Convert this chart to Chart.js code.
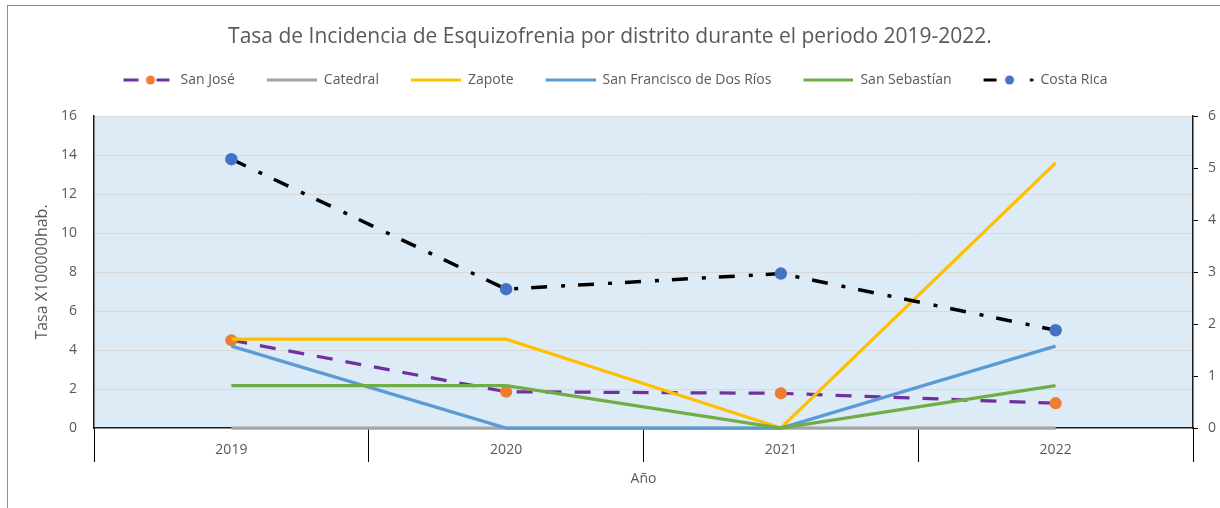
<!DOCTYPE html>
<html>
<head>
<meta charset="utf-8">
<title>Tasa de Incidencia de Esquizofrenia</title>
<script src="https://cdn.jsdelivr.net/npm/chart.js@4.4.0/dist/chart.umd.min.js"></script>
<style>
    html, body { margin: 0; padding: 0; background: #fff; }
    #wrap { position: relative; width: 1220px; height: 508px; overflow: hidden; }
    #frame { position: absolute; left: 7px; top: 5px; width: 1400px; height: 700px;
             border-left: 1px solid #5B9BD5; border-top: 1px solid #5B9BD5; pointer-events: none; }
    canvas { position: absolute; left: 0; top: 0; }
</style>
</head>
<body>
<div id="wrap">
    <div id="frame"></div>
    <canvas id="chart" width="1220" height="508"></canvas>
</div>
<script>
// values
var years = ['2019', '2020', '2021', '2022'];
var sanJose = [4.5, 1.86, 1.78, 1.27];
var catedral = [0, 0, 0, 0];
var zapote = [4.56, 4.56, 0, 13.6];
var sanFrancisco = [4.2, 0, 0, 4.2];
var sanSebastian = [2.17, 2.17, 0, 2.17];
var costaRica = [5.17, 2.67, 2.97, 1.88];   // secondary axis

var seriesNames = ['San José', 'Catedral', 'Zapote', 'San Francisco de Dos Ríos', 'San Sebastían', 'Costa Rica'];
var leftAxisMax = 16, leftAxisStep = 2;
var rightAxisMax = 6, rightAxisStep = 1;

var FONT = "'Open Sans', 'Noto Sans', sans-serif";
var GREY_TEXT = '#595959';

// little canvases used as legend samples (line + marker like Excel)
function sample(draw) {
    var c = document.createElement('canvas');
    c.width = 61;
    c.height = 12;
    var ctx = c.getContext('2d');
    draw(ctx);
    return c;
}
function seg(ctx, x1, x2, color) {
    ctx.strokeStyle = color;
    ctx.lineWidth = 3;
    ctx.beginPath();
    ctx.moveTo(x1, 6);
    ctx.lineTo(x2, 6);
    ctx.stroke();
}
function dot(ctx, x, r, color) {
    ctx.fillStyle = color;
    ctx.beginPath();
    ctx.arc(x, 6, r, 0, Math.PI * 2);
    ctx.fill();
}

var legendSamples = [
    sample(function (ctx) { seg(ctx, 11, 26, '#7030A0'); seg(ctx, 44, 57, '#7030A0'); dot(ctx, 38, 4.5, '#ED7D31'); }),
    sample(function (ctx) { seg(ctx, 11, 61, '#A5A5A5'); }),
    sample(function (ctx) { seg(ctx, 11, 61, '#FFC000'); }),
    sample(function (ctx) { seg(ctx, 11, 61, '#5B9BD5'); }),
    sample(function (ctx) { seg(ctx, 11, 61, '#70AD47'); }),
    sample(function (ctx) { seg(ctx, 11, 24, '#000000'); dot(ctx, 37, 4.5, '#4472C4'); dot(ctx, 59, 1.8, '#000000'); })
];

var plotBackground = {
    id: 'plotBackground',
    beforeDraw: function (chart) {
        var a = chart.chartArea;
        var ctx = chart.ctx;
        ctx.save();
        ctx.fillStyle = '#DDEBF7';
        ctx.fillRect(a.left, a.top, a.right - a.left, a.bottom - a.top);
        ctx.restore();
    }
};

// extra room below the legend row (Excel leaves a wide gap before the plot)
var legendGap = {
    id: 'legendGap',
    afterInit: function (chart) {
        var lg = chart.legend;
        if (!lg) return;
        var fit = lg.fit;
        lg.fit = function () {
            fit.call(this);
            this.height += 19;
        };
    }
};

document.addEventListener("DOMContentLoaded", function () {
    Chart.defaults.font.family = FONT;
    Chart.defaults.color = GREY_TEXT;

    var ctx = document.getElementById('chart').getContext('2d');
    new Chart(ctx, {
        type: 'line',
        data: {
            labels: years,
            datasets: [{
                label: seriesNames[0],
                data: sanJose,
                borderColor: '#7030A0',
                borderWidth: 3.25,
                borderDash: [16, 13],
                pointRadius: 4.5,
                pointBackgroundColor: '#ED7D31',
                pointBorderColor: '#ED7D31',
                yAxisID: 'y',
                order: 6
            }, {
                label: seriesNames[1],
                data: catedral,
                borderColor: '#A5A5A5',
                borderWidth: 3.25,
                pointRadius: 0,
                yAxisID: 'y',
                order: 5
            }, {
                label: seriesNames[2],
                data: zapote,
                borderColor: '#FFC000',
                borderWidth: 3.25,
                pointRadius: 0,
                yAxisID: 'y',
                order: 4
            }, {
                label: seriesNames[3],
                data: sanFrancisco,
                borderColor: '#5B9BD5',
                borderWidth: 3.25,
                pointRadius: 0,
                yAxisID: 'y',
                order: 3
            }, {
                label: seriesNames[4],
                data: sanSebastian,
                borderColor: '#70AD47',
                borderWidth: 3.25,
                pointRadius: 0,
                yAxisID: 'y',
                order: 2
            }, {
                label: seriesNames[5],
                data: costaRica,
                borderColor: '#000000',
                borderWidth: 3.5,
                borderDash: [16, 14, 4, 13],
                pointRadius: 4.5,
                pointBackgroundColor: '#4472C4',
                pointBorderColor: '#4472C4',
                yAxisID: 'y1',
                order: 1
            }]
        },
        options: {
            responsive: false,
            animation: false,
            devicePixelRatio: 1,
            events: [],
            clip: 8,
            elements: { line: { tension: 0, fill: false } },
            layout: { padding: { top: 1, left: 0, right: 0, bottom: 0 } },
            plugins: {
                tooltip: { enabled: false },
                title: {
                    display: true,
                    text: 'Tasa de Incidencia de Esquizofrenia por distrito durante el periodo 2019-2022.',
                    color: GREY_TEXT,
                    font: { family: FONT, size: 21, weight: 'normal' },
                    padding: { top: 23, bottom: 2.8 }
                },
                legend: {
                    display: true,
                    position: 'top',
                    labels: {
                        usePointStyle: true,
                        pointStyleWidth: 61,
                        padding: 21,
                        color: GREY_TEXT,
                        font: { family: FONT, size: 14 },
                        generateLabels: function (chart) {
                            return seriesNames.map(function (name, i) {
                                return {
                                    text: name,
                                    pointStyle: legendSamples[i],
                                    fillStyle: 'rgba(0,0,0,0)',
                                    strokeStyle: 'rgba(0,0,0,0)',
                                    lineWidth: 0,
                                    fontColor: GREY_TEXT,
                                    hidden: false,
                                    datasetIndex: i
                                };
                            });
                        }
                    }
                }
            },
            scales: {
                x: {
                    type: 'category',
                    offset: true,
                    grid: {
                        offset: true,
                        drawOnChartArea: false,
                        drawTicks: true,
                        tickLength: 34,
                        color: '#000000',
                        lineWidth: 1
                    },
                    border: { display: true, color: '#1a1a1a', width: 1.5 },
                    ticks: { color: GREY_TEXT, font: { size: 14 }, padding: -20, maxRotation: 0 },
                    title: {
                        display: true,
                        text: 'Año',
                        color: GREY_TEXT,
                        font: { size: 14 },
                        padding: { top: 0, bottom: 21 }
                    },
                    afterFit: function (scale) { scale.height = 80; }
                },
                y: {
                    position: 'left',
                    min: 0,
                    max: leftAxisMax,
                    ticks: { stepSize: leftAxisStep, color: GREY_TEXT, font: { size: 14 }, padding: 17 },
                    grid: {
                        drawTicks: false,
                        lineWidth: 1,
                        color: function (c) { return c.tick && c.tick.value === 0 ? 'rgba(0,0,0,0)' : '#D9D9D9'; }
                    },
                    border: { display: true, color: '#1a1a1a', width: 1.5 },
                    title: {
                        display: true,
                        text: 'Tasa X100000hab.',
                        color: GREY_TEXT,
                        font: { size: 16 },
                        padding: { top: 33, bottom: 0 }
                    },
                    afterFit: function (scale) { scale.width = 94; }
                },
                y1: {
                    position: 'right',
                    min: 0,
                    max: rightAxisMax,
                    ticks: { stepSize: rightAxisStep, color: GREY_TEXT, font: { size: 14 }, padding: 10 },
                    grid: { drawOnChartArea: false, drawTicks: true, tickLength: 5, color: '#000000' },
                    border: { display: true, color: '#1a1a1a', width: 1.5 },
                    afterFit: function (scale) { scale.width = 27; }
                }
            }
        },
        plugins: [plotBackground, legendGap]
    });
});
</script>
</body>
</html>
